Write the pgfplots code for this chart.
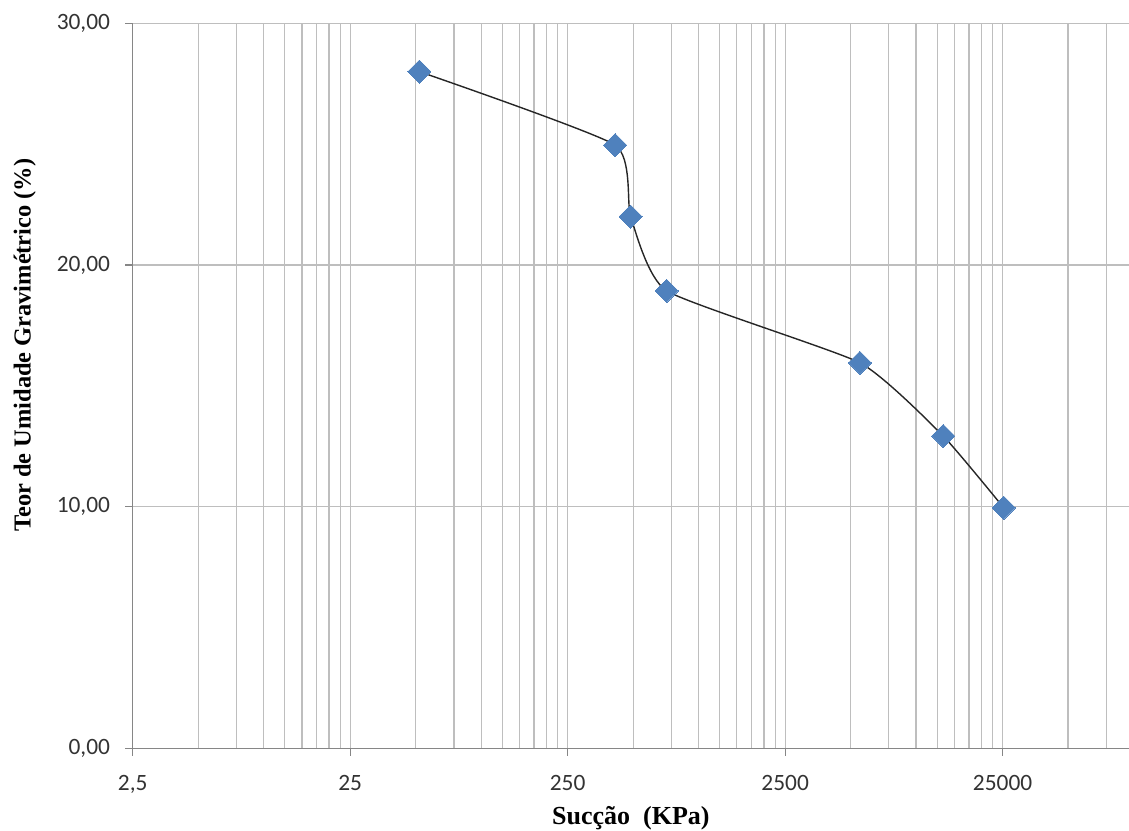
\documentclass[border=0pt]{standalone}
\usepackage{fontspec}
\setmainfont{Liberation Serif}
\newfontfamily\carlito{Carlito}
\usepackage{pgfplots}
\pgfplotsset{compat=1.18}
\definecolor{mkblue}{HTML}{4F81BD}
\definecolor{gridc}{HTML}{BEBEBE}
\definecolor{axc}{HTML}{868686}
\begin{document}
\begin{tikzpicture}
\begin{axis}[
  at={(0,0)}, anchor=south west,
  scale only axis,
  width=498.15pt, height=362.5pt,
  xmode=log, log basis x=10,
  xmin=2.5, xmax=95300,
  ymin=0, ymax=30,
  axis x line*=bottom, axis y line*=left,
  axis line style={axc, line width=0.6pt},
  xtick={2.5,25,250,2500,25000},
  xticklabels={{2,5},25,250,2500,25000},
  minor xtick={5,7.5,10,12.5,15,17.5,20,22.5,
               50,75,100,125,150,175,200,225,
               500,750,1000,1250,1500,1750,2000,2250,
               5000,7500,10000,12500,15000,17500,20000,22500,
               50000,75000},
  ytick={0,10,20,30},
  tick label style={font=\carlito\fontsize{11.7}{13}\selectfont, text=black!80},
  yticklabel style={xshift=-4pt, /pgf/number format/.cd, fixed, fixed zerofill, precision=2, use comma},
  /pgf/number format/assume math mode=true,
  xticklabel style={yshift=-6pt},
  tick align=outside,
  major tick length=3.8pt,
  minor tick length=0pt,
  tick style={axc, line width=0.6pt},
  grid=both,
  major grid style={gridc, line width=0.6pt},
  minor grid style={gridc, line width=0.6pt},
  xlabel={Sucção\ \ (KPa)},
  ylabel={Teor de Umidade Gravimétrico (\%)},
  xlabel style={font=\bfseries\fontsize{13}{15}\selectfont, at={(axis description cs:0.5,0)}, anchor=center, yshift=-35pt},
  ylabel style={font=\bfseries\fontsize{12.2}{14}\selectfont, at={(axis description cs:0,0.556)}, anchor=center, yshift=54pt},
  clip=false,
]
\addplot[black!85, line width=0.7pt, smooth, tension=0.3,
  mark=square*, mark size=4.1pt,
  mark options={mkblue, fill=mkblue, rotate=45, line width=0pt, draw=mkblue}]
  coordinates {
  (52,28.0)
  (413,24.96)
  (487,22.0)
  (713,18.93)
  (5520,15.95)
  (13330,12.92)
  (25300,9.95)
  };
\end{axis}
\pgfresetboundingbox
\path[use as bounding box] (-66.35pt,-40.85pt) rectangle (498.15pt,374.15pt);
\end{tikzpicture}
\end{document}
